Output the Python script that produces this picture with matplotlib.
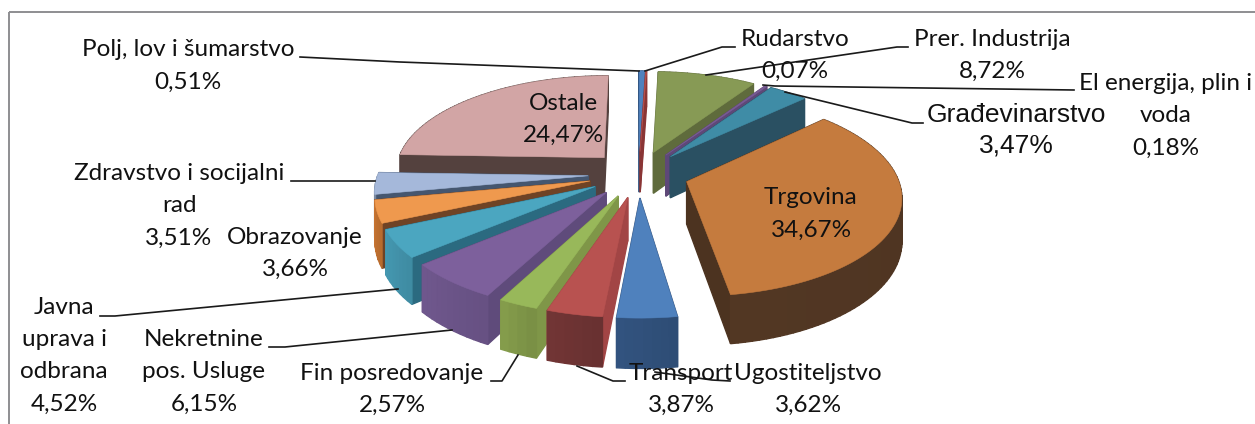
import numpy as np
import matplotlib
matplotlib.use("Agg")
import matplotlib.pyplot as plt
from matplotlib.patches import Polygon

# clockwise from 12 o'clock
names = ["Polj, lov i šumarstvo", "Rudarstvo", "Prer. Industrija", "El energija, plin i voda",
         "Građevinarstvo", "Trgovina", "Transport", "Ugostiteljstvo", "Fin posredovanje",
         "Nekretnine pos. Usluge", "Javna uprava i odbrana", "Obrazovanje",
         "Zdravstvo i socijalni rad", "Ostale"]
values = [0.51, 0.07, 8.72, 0.18, 3.47, 34.67, 3.87, 3.62, 2.57, 6.15, 4.52, 3.66, 3.51, 24.47]

top_colors = ["#4F81BD", "#B5504C", "#879A55", "#7A5C96", "#3F8CA6", "#C57B3E", "#4F81BD",
              "#B85250", "#98B85A", "#7D609C", "#4BA6C0", "#EF994E", "#A5B8DA", "#D2A5A5"]
side_colors = ["#2F5380", "#8A3535", "#5F6B3C", "#5E4878", "#2A5062", "#4C3320", "#2F4D77",
               "#A24545", "#7F9648", "#5F4B7B", "#2B6A80", "#6F4325", "#45566F", "#54413E"]
arc_colors = ["#2F5380", "#8A3535", "#5F6B3C", "#5E4878", "#2A5062", "#4F3522", "#30507A",
              "#6D3333", "#7F9648", "#6B5488", "#4292AA", "#C07030", "#7F90AA", "#54413E"]

# label text, centre x, first line y
label_lines = [["Polj, lov i šumarstvo"], ["Rudarstvo"], ["Prer. Industrija"],
               ["El energija, plin i", "voda"], ["Građevinarstvo"], ["Trgovina"], ["Transport"],
               ["Ugostiteljstvo"], ["Fin posredovanje"], ["Nekretnine", "pos. Usluge"],
               ["Javna", "uprava i", "odbrana"], ["Obrazovanje"],
               ["Zdravstvo i socijalni", "rad"], ["Ostale"]]
label_x = [188, 795, 992, 1166, 1016, 811, 681, 808, 392, 204, 64, 295, 179, 563]
label_y = [50, 39, 39, 83, 115, 198, 373, 373, 373, 339, 307, 237, 173, 103]

leaders = [[(300, 57), (400, 62), (639, 71)],
           [(645, 71), (722, 47), (735, 47)],
           [(706, 75), (897, 47), (908, 47)],
           [(763, 85), (775, 86), (1074, 90)],
           [(785, 92), (912, 123), (923, 123)],
           [(655, 372), (712, 380), (730, 381)],
           [(577, 366), (613, 381), (625, 381)],
           [(518, 355), (502, 381), (491, 381)],
           [(269, 347), (285, 347), (452, 330)],
           [(100, 316), (115, 316), (398, 289)],
           [(291, 181), (375, 181)]]

cx, cy = 638.5, 174
rx, ry = 210, 96.9
persp = 0.134
explode = 0.24
depth = 42


def project(u, v):
    s = 1 / (1 + persp * v)
    return cx + rx * u * s, cy - ry * v * s, depth * s


def shade(color, f):
    rgb = np.array(matplotlib.colors.to_rgb(color)) * f
    return tuple(np.clip(rgb, 0, 1))


fig = plt.figure(figsize=(12.55, 4.24), dpi=100)
ax = fig.add_axes([0, 0, 1, 1])
ax.set_xlim(0, 1255)
ax.set_ylim(424, 0)
ax.axis("off")

edges = np.cumsum([0] + values) / sum(values) * 2 * np.pi
mids = (edges[:-1] + edges[1:]) / 2
order = sorted(range(len(values)), key=lambda i: -np.cos(mids[i]))

z = 1
for i in order:
    ex = explode * np.sin(mids[i])
    ey = explode * np.cos(mids[i])
    n = max(3, int((edges[i + 1] - edges[i]) / 0.03))
    th = np.linspace(edges[i], edges[i + 1], n)
    plane = [(ex + np.sin(t), ey + np.cos(t)) for t in th]
    apex = (ex, ey)

    walls = [(apex, plane[0], side_colors[i]), (plane[-1], apex, side_colors[i])]
    for k in range(len(plane) - 1):
        f = 0.96 + 0.08 * k / max(1, len(plane) - 2)
        walls.append((plane[k], plane[k + 1], shade(arc_colors[i], f)))
    walls.sort(key=lambda w: -(w[0][1] + w[1][1]))

    for a, b, col in walls:
        xa, ya, da = project(*a)
        xb, yb, db = project(*b)
        ax.add_patch(Polygon([(xa, ya), (xb, yb), (xb, yb + db), (xa, ya + da)],
                             closed=True, facecolor=col, edgecolor=col, lw=1.0, zorder=z))
        z += 1
    face = [project(*apex)[:2]] + [project(*p)[:2] for p in plane]
    ax.add_patch(Polygon(face, closed=True, facecolor=top_colors[i], edgecolor=top_colors[i],
                         lw=0.4, zorder=z))
    z += 1

# chart frame: only top and left show in the crop
ax.plot([9, 1255], [12, 12], color="#8E8E92", lw=1.4, zorder=z, solid_capstyle="butt")
ax.plot([9, 9], [12, 424], color="#8E8E92", lw=1.4, zorder=z, solid_capstyle="butt")
z += 1

for line in leaders:
    ax.plot([p[0] for p in line], [p[1] for p in line], color="#1a1a1a", lw=1.2, zorder=z)
z += 1

for i, lines in enumerate(label_lines):
    pct = f"{values[i]:.2f}".replace(".", ",") + "%"
    is_arial = names[i] == "Građevinarstvo"
    for k, s in enumerate(lines + [pct]):
        ax.text(label_x[i], label_y[i] + k * (31 if is_arial else 32.5), s, ha="center", va="center",
                family="Liberation Sans" if is_arial else "Lato",
                fontsize=19 if is_arial else 17.5, color="#111111", zorder=z)

fig.savefig("out.png", dpi=100)
